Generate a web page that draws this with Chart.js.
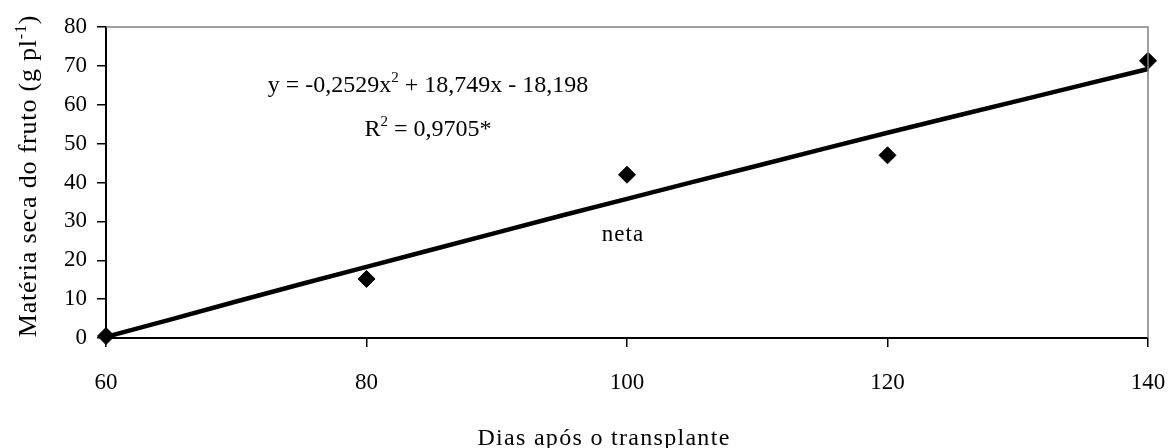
<!DOCTYPE html>
<html>
<head>
<meta charset="utf-8">
<script src="https://cdn.jsdelivr.net/npm/chart.js@4/dist/chart.umd.min.js"></script>
<style>
  html, body { margin: 0; padding: 0; background: #fff; overflow: hidden; }
  #wrap { width: 1169px; height: 448px; }
  canvas { display: block; }
</style>
</head>
<body>
<div id="wrap"><canvas id="c" width="1169" height="448"></canvas></div>
<script>
// Observed data (days after transplant vs. fruit dry matter)
const days = [60, 80, 100, 120, 140];
const dryMatter = [0.5, 15.2, 42.0, 47.0, 71.3];

// Fitted trend line
const trendDays = [60, 65, 70, 75, 80, 85, 90, 95, 100, 105, 110, 115, 120, 125, 130, 135, 140];
const trendValues = [0.3, 4.8, 9.4, 13.9, 18.3, 22.7, 27.1, 31.5, 35.8, 40.1, 44.3, 48.6, 52.8, 56.9, 61.0, 65.1, 69.2];

const xTicks = [60, 80, 100, 120, 140];
const yTicks = [0, 10, 20, 30, 40, 50, 60, 70, 80];

const xTitle = 'Dias após o transplante';
const yTitleMain = 'Matéria seca do fruto (g pl';
const yTitleSup = '-1';
const yTitleEnd = ')';
const eqLine1 = ['y = -0,2529x', '2', ' + 18,749x - 18,198'];
const eqLine2 = ['R', '2', ' = 0,9705*'];
const seriesLabel = 'neta';

const FONT = '"Liberation Serif", "Times New Roman", serif';

function drawRuns(ctx, runs, cx, baseline, size, supSize, supRise, spacing) {
  ctx.letterSpacing = (spacing || 0) + 'px';
  let widths = runs.map((t, i) => {
    ctx.font = (i % 2 === 1 ? supSize : size) + 'px ' + FONT;
    return ctx.measureText(t).width;
  });
  const total = widths.reduce((a, b) => a + b, 0);
  let x = cx - total / 2;
  ctx.textAlign = 'left';
  ctx.textBaseline = 'alphabetic';
  runs.forEach((t, i) => {
    const sup = i % 2 === 1;
    ctx.font = (sup ? supSize : size) + 'px ' + FONT;
    ctx.fillText(t, x, sup ? baseline - supRise : baseline);
    x += widths[i];
  });
  ctx.letterSpacing = '0px';
}

const annotations = {
  id: 'annotations',
  afterDraw(chart) {
    const ctx = chart.ctx;
    const a = chart.chartArea;
    ctx.save();
    // gray frame top/right
    ctx.strokeStyle = '#808080';
    ctx.lineWidth = 1.5;
    ctx.beginPath();
    ctx.moveTo(a.left, a.top);
    ctx.lineTo(a.right, a.top);
    ctx.lineTo(a.right, a.bottom);
    ctx.stroke();

    ctx.fillStyle = '#000';
    // equation
    drawRuns(ctx, eqLine1, 428, 92, 24, 15, 10, 0);
    drawRuns(ctx, eqLine2, 428, 136, 24, 15, 10, 0);
    // series label
    drawRuns(ctx, [seriesLabel], 623, 241, 23, 15, 9, 1);
    // x title
    drawRuns(ctx, [xTitle], 604, 445, 24, 15, 9, 1.3);
    // y title
    ctx.translate(36, 176);
    ctx.rotate(-Math.PI / 2);
    drawRuns(ctx, [yTitleMain, yTitleSup, yTitleEnd], 0, 0, 26, 16, 10, 0.8);
    ctx.restore();
  }
};

function zeroPad(scale) {
  scale.paddingLeft = 0; scale.paddingRight = 0;
  scale.paddingTop = 0; scale.paddingBottom = 0;
}

new Chart(document.getElementById('c'), {
  type: 'scatter',
  data: {
    datasets: [
      {
        label: 'observed',
        data: days.map((d, i) => ({ x: d, y: dryMatter[i] })),
        pointStyle: 'rectRot',
        pointRadius: 8.5,
        backgroundColor: '#000',
        borderColor: '#000',
        borderWidth: 1,
        showLine: false,
        clip: false,
        order: 0
      },
      {
        label: 'trend',
        data: trendDays.map((d, i) => ({ x: d, y: trendValues[i] })),
        showLine: true,
        borderColor: '#000',
        borderWidth: 4.5,
        pointRadius: 0,
        tension: 0,
        clip: false,
        order: 1
      }
    ]
  },
  options: {
    responsive: false,
    animation: false,
    layout: { padding: { top: 27, right: 21, left: 0, bottom: 0 } },
    plugins: { legend: { display: false }, tooltip: { enabled: false } },
    scales: {
      x: {
        type: 'linear',
        min: 60, max: 140,
        afterFit(scale) { scale.height = 110; zeroPad(scale); },
        afterBuildTicks(scale) { scale.ticks = xTicks.map(v => ({ value: v })); },
        grid: { drawOnChartArea: false, drawTicks: true, tickLength: 9, color: '#000', lineWidth: 1.5 },
        border: { display: true, color: '#000', width: 2 },
        ticks: { color: '#000', padding: 22, maxRotation: 0, font: { family: FONT, size: 23 } }
      },
      y: {
        type: 'linear',
        min: 0, max: 80,
        afterFit(scale) { scale.width = 106; zeroPad(scale); },
        afterBuildTicks(scale) { scale.ticks = yTicks.map(v => ({ value: v })); },
        grid: { drawOnChartArea: false, drawTicks: true, tickLength: 9, color: '#000', lineWidth: 1.5 },
        border: { display: true, color: '#000', width: 2 },
        ticks: { color: '#000', padding: 10, font: { family: FONT, size: 23 } }
      }
    }
  },
  plugins: [annotations]
});
</script>
</body>
</html>
